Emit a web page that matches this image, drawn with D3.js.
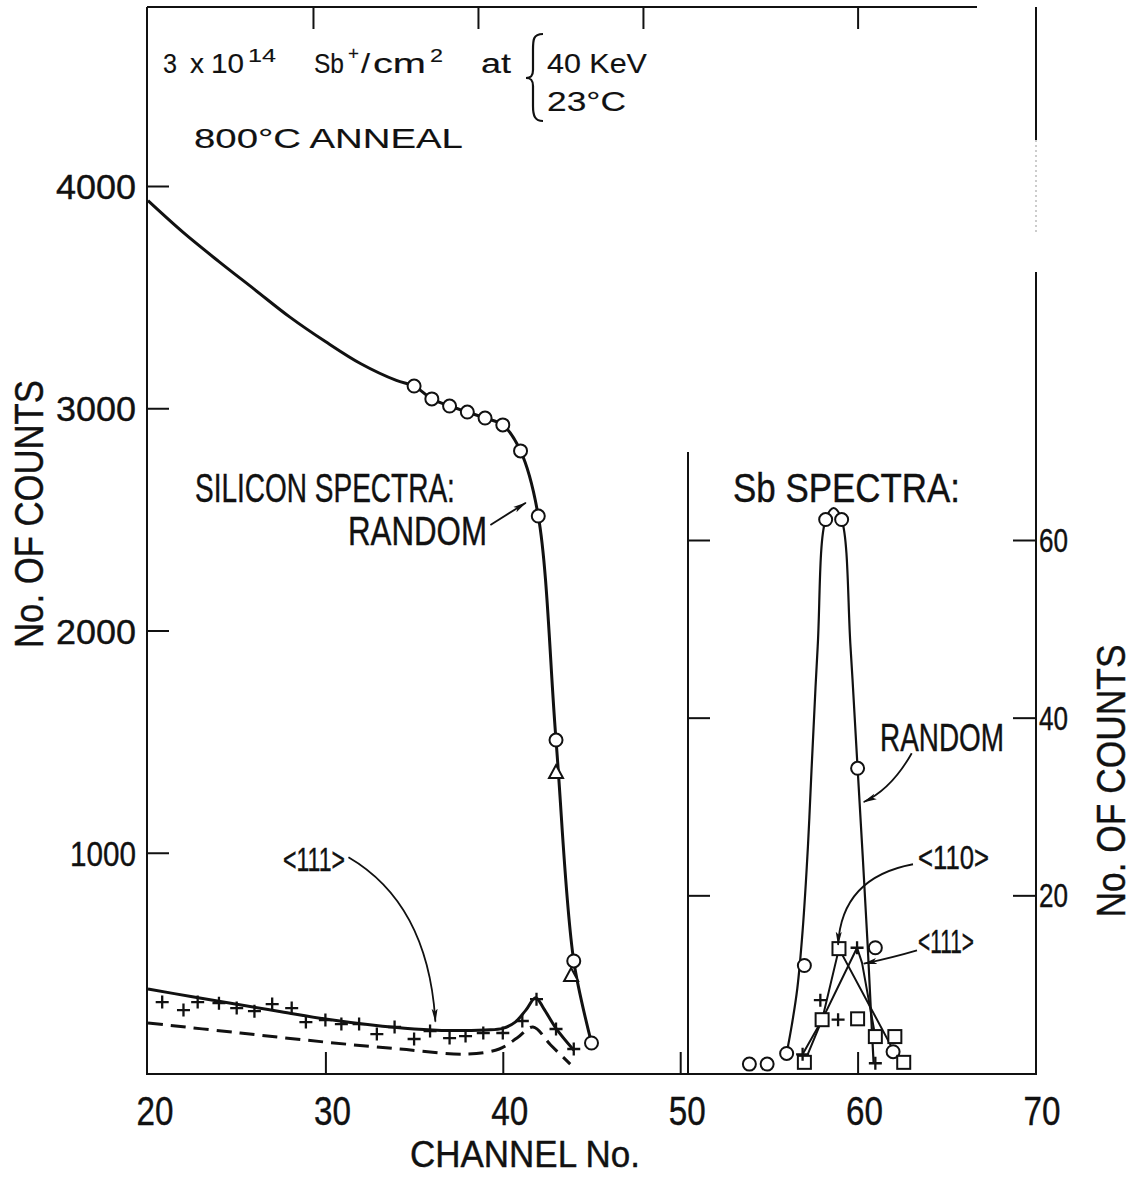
<!DOCTYPE html>
<html>
<head>
<meta charset="utf-8">
<script src="https://cdn.jsdelivr.net/npm/d3@7"></script>
<style>
  html, body { margin: 0; padding: 0; background: #fff; }
  svg { display: block; }
  text { font-family: "Liberation Sans", "DejaVu Sans", sans-serif; fill: #111; }
</style>
</head>
<body>
<script>
// ---------- Silicon spectra (left scale, counts) ----------
// Random spectrum: smooth part of the hand-drawn curve
const siRandomFitChannel = [20, 22, 24, 26, 28, 30, 32, 34];
const siRandomFitCounts  = [3934, 3790, 3660, 3535, 3410, 3300, 3200, 3125];
// Random spectrum: measured points (circles)
const siRandomChannel = [35, 36, 37, 38, 39, 40, 41, 42, 43, 44, 45];
const siRandomCounts  = [3100, 3042, 3010, 2983, 2956, 2925, 2808, 2515, 1507, 513, 144];
// Random spectrum: triangles
const siTriChannel = [43, 43.85];
const siTriCounts  = [1363, 450];
// <111> aligned spectrum: measured points (+)
const si111Channel = [20.8, 22.0, 22.8, 24.0, 25.0, 26.0, 27.0, 28.1, 28.9, 30.0, 30.9, 31.9,
                      32.9, 33.9, 35.0, 35.9, 37.0, 37.9, 38.9, 40.0, 41.1, 41.9, 43.0, 44.0];
const si111Counts  = [328, 292, 328, 323, 301, 287, 319, 301, 238, 247, 229, 229,
                      184, 216, 162, 198, 166, 175, 189, 189, 243, 341, 207, 117];
// <111> aligned spectrum: drawn curve
const si111LineChannel = [20, 22.5, 25, 27.5, 30, 32.5, 35, 37, 39, 40, 40.7, 41.3, 41.85, 42.3, 43, 44];
const si111LineCounts  = [387, 352, 318, 285, 252, 226, 207, 200, 203, 210, 238, 292, 348, 300, 210, 112];
// Dashed reference curve
const siDashChannel = [20, 25.2, 30, 34.2, 38, 39.8, 40.8, 41.7, 42.7, 43.8];
const siDashCounts  = [234, 189, 148, 117, 94, 117, 166, 216, 135, 49];

// ---------- Sb spectra (right scale, counts) ----------
const sbRandomChannel = [53.9, 54.9, 56.0, 57.0, 58.2, 59.1, 60.0, 61.0, 62.0];
const sbRandomCounts  = [1.0, 1.0, 2.2, 12.1, 62.3, 62.3, 34.3, 14.1, 2.4];
const sbRandomFitChannel = [56.0, 56.3, 56.6, 56.9, 57.2, 57.4, 57.75, 58.2, 58.65, 59.1, 59.6, 60.0, 60.3, 60.55, 60.75, 60.9];
const sbRandomFitCounts  = [2.2, 5.5, 9.5, 16, 25.5, 34, 48, 62.3, 63.6, 62.3, 48, 34.3, 24, 15, 7, 1.2];
const sb110Channel = [57.0, 58.0, 58.95, 60.0, 61.0, 62.1, 62.6];
const sb110Counts  = [1.2, 6.0, 14.0, 6.1, 4.1, 4.1, 1.2];
const sb110LineChannel = [57.0, 58.0, 58.95, 61.9];
const sb110LineCounts  = [1.2, 6.0, 14.0, 3.0];
const sb111Channel = [56.9, 57.9, 58.9, 59.97, 61.0];
const sb111Counts  = [2.1, 8.2, 6.0, 14.1, 1.1];
const sb111LineChannel = [56.9, 58.0, 59.97, 60.25, 61.0];
const sb111LineCounts  = [2.1, 6.0, 14.1, 12.4, 4.1];

// ---------- Axes ----------
const xTickValues = [20, 30, 40, 50, 60, 70];
const xTickLabels = ["20", "30", "40", "50", "60", "70"];
const xInnerTicks = [30, 40, 50, 60];
const xTopTicks   = [29.3, 38.6, 47.9, 60];
const siTickValues = [1000, 2000, 3000, 4000];
const siTickLabels = ["1000", "2000", "3000", "4000"];
const sbTickValues = [20, 40, 60];
const sbTickLabels = ["20", "40", "60"];

const W = 1135, H = 1178;
const svg = d3.select("body").append("svg").attr("width", W).attr("height", H);
svg.append("rect").attr("width", W).attr("height", H).attr("fill", "#fff");

const x = d3.scaleLinear().domain([20, 70]).range([148, 1035]);
const ySi = d3.scaleLinear().domain([0, 4000]).range([1075, 186]);
const ySb = d3.scaleLinear().domain([0, 60]).range([1073, 540]);

const ink = "#111";

// arrowhead marker
const defs = svg.append("defs");
defs.append("marker").attr("id", "arrow")
  .attr("viewBox", "0 0 14 8").attr("refX", 13).attr("refY", 4)
  .attr("markerWidth", 14).attr("markerHeight", 8).attr("markerUnits", "userSpaceOnUse")
  .attr("orient", "auto")
  .append("path").attr("d", "M0,1 L14,4 L0,7 L3,4 Z").attr("fill", ink);

// ---------- Frame ----------
const frame = svg.append("g").attr("stroke", ink).attr("stroke-width", 2).attr("fill", "none");
frame.append("line").attr("x1", 147).attr("x2", 147).attr("y1", 7).attr("y2", 1075);
frame.append("line").attr("x1", 147).attr("x2", 977).attr("y1", 7).attr("y2", 7);
frame.append("line").attr("x1", 147).attr("x2", 1036).attr("y1", 1074).attr("y2", 1074);
frame.append("line").attr("x1", 1036).attr("x2", 1036).attr("y1", 7).attr("y2", 140);
frame.append("line").attr("x1", 1036).attr("x2", 1036).attr("y1", 140).attr("y2", 232)
  .attr("stroke", "#999").attr("stroke-width", 1).attr("stroke-dasharray", "2,3");
frame.append("line").attr("x1", 1036).attr("x2", 1036).attr("y1", 272).attr("y2", 1075);
// Sb panel left border
frame.append("line").attr("x1", 688).attr("x2", 688).attr("y1", 452).attr("y2", 1075);

// ---------- Ticks via d3 axes ----------
function styleAxis(g) {
  g.select(".domain").remove();
  g.selectAll(".tick line").attr("stroke", ink).attr("stroke-width", 2);
  g.selectAll(".tick text").remove();
}
svg.append("g").attr("transform", "translate(147,0)")
  .call(d3.axisRight(ySi).tickValues(siTickValues).tickSize(22)).call(styleAxis);
svg.append("g").attr("transform", "translate(0,1074)")
  .call(d3.axisTop(x).tickValues(xInnerTicks).tickSize(22)).call(styleAxis);
svg.append("g").attr("transform", "translate(0,7)")
  .call(d3.axisBottom(x).tickValues(xTopTicks).tickSize(22)).call(styleAxis);
svg.append("g").attr("transform", "translate(1036,0)")
  .call(d3.axisLeft(ySb).tickValues(sbTickValues).tickSize(23)).call(styleAxis);
svg.append("g").attr("transform", "translate(688,0)")
  .call(d3.axisRight(ySb).tickValues(sbTickValues).tickSize(22)).call(styleAxis);

// ---------- Text helper: narrow lettering by horizontal scaling ----------
function txt(s, px, py, size, len, anchor, rot, sw) {
  const t = svg.append("text").attr("x", 0).attr("y", 0)
    .attr("font-size", size).attr("text-anchor", anchor || "start")
    .attr("stroke", ink).attr("stroke-width", sw === undefined ? 0.4 : sw)
    .text(s);
  const natural = t.node().getComputedTextLength();
  const k = len ? len / natural : 1;
  t.attr("transform", `translate(${px},${py}) rotate(${rot || 0}) scale(${k},1)`);
  return t;
}

// tick labels
siTickValues.forEach((v, i) => txt(siTickLabels[i], 136, ySi(v) + 13, 35, siTickLabels[i].startsWith("1") ? 66 : 80, "end"));
xTickValues.forEach((v, i) => txt(xTickLabels[i], x(v) + 7, 1125, 41, 37, "middle"));
sbTickValues.forEach((v, i) => txt(sbTickLabels[i], 1039, ySb(v) + 12, 34, 29, "start"));

// axis titles
txt("No. OF COUNTS", 43, 514, 41, 268, "middle", -90);
txt("No. OF COUNTS", 1125, 781, 41, 273, "middle", -90);
txt("CHANNEL No.", 525, 1167, 36, 230, "middle");

// heading
const hs = 0.15;
txt("3", 163, 73, 28, 14, "start", 0, hs);
txt("x", 190, 73, 28, 14, "start", 0, hs);
txt("10", 211, 73, 28, 33, "start", 0, hs);
txt("14", 248, 62, 19, 28, "start", 0, hs);
txt("Sb", 314, 73, 28, 30, "start", 0, hs);
txt("+", 348, 60, 19, 11, "start", 0, hs);
txt("/", 361, 73, 28, 9, "start", 0, hs);
txt("cm", 373, 73, 28, 53, "start", 0, hs);
txt("2", 430, 62, 19, 13, "start", 0, hs);
txt("at", 481, 73, 28, 30, "start", 0, hs);
txt("40 KeV", 547, 73, 28, 100, "start", 0, hs);
txt("23°C", 547, 111, 28, 79, "start", 0, hs);
txt("800°C  ANNEAL", 194, 148, 28, 269, "start", 0, hs);
// brace
svg.append("path")
  .attr("d", "M543,34 C533,34 533,40 533,50 L533,70 C533,76 531,78 526,78 C531,78 533,80 533,86 L533,106 C533,116 535,121 543,121")
  .attr("fill", "none").attr("stroke", ink).attr("stroke-width", 2.2);

// panel labels
txt("SILICON  SPECTRA:", 195, 502, 40, 260);
txt("RANDOM", 348, 545, 40, 139);
txt("Sb  SPECTRA:", 733, 502, 40, 227);
txt("RANDOM", 880, 751, 38, 124);
txt("<111>", 283, 871, 34, 62);
txt("<110>", 918, 869, 34, 71);
txt("<111>", 918, 953, 34, 56);

// ---------- Line generators ----------
const zip = (a, b) => a.map((v, i) => [v, b[i]]);
const lineSi = d3.line().x(d => x(d[0])).y(d => ySi(d[1])).curve(d3.curveCatmullRom.alpha(0.5));
const lineSb = d3.line().x(d => x(d[0])).y(d => ySb(d[1])).curve(d3.curveCatmullRom.alpha(0.5));
const lineSbStraight = d3.line().x(d => x(d[0])).y(d => ySb(d[1]));

const curves = svg.append("g").attr("fill", "none").attr("stroke", ink).attr("stroke-linejoin", "round");
curves.append("path")
  .attr("d", lineSi(zip(siRandomFitChannel, siRandomFitCounts).concat(zip(siRandomChannel, siRandomCounts))))
  .attr("stroke-width", 3);
curves.append("path").attr("d", lineSi(zip(si111LineChannel, si111LineCounts))).attr("stroke-width", 3);
curves.append("path").attr("d", lineSi(zip(siDashChannel, siDashCounts)))
  .attr("stroke-width", 3).attr("stroke-dasharray", "15,8");
curves.append("path").attr("d", lineSb(zip(sbRandomFitChannel, sbRandomFitCounts))).attr("stroke-width", 2.2);
curves.append("path").attr("d", lineSbStraight(zip(sb110LineChannel, sb110LineCounts))).attr("stroke-width", 2);
curves.append("path").attr("d", lineSbStraight(zip(sb111LineChannel, sb111LineCounts))).attr("stroke-width", 2);

// ---------- Markers ----------
const marks = svg.append("g").attr("stroke", ink).attr("stroke-width", 2);
function circles(ch, ct, ys) {
  marks.selectAll(null).data(zip(ch, ct)).enter().append("circle")
    .attr("cx", d => x(d[0])).attr("cy", d => ys(d[1])).attr("r", 6.5).attr("fill", "#fff");
}
function squares(ch, ct, ys) {
  marks.selectAll(null).data(zip(ch, ct)).enter().append("rect")
    .attr("x", d => x(d[0]) - 6.5).attr("y", d => ys(d[1]) - 6.5)
    .attr("width", 13).attr("height", 13).attr("fill", "#fff");
}
function triangles(ch, ct, ys) {
  marks.selectAll(null).data(zip(ch, ct)).enter().append("path")
    .attr("d", d => { const cx = x(d[0]), cy = ys(d[1]); return `M${cx},${cy - 7} L${cx + 7},${cy + 6} L${cx - 7},${cy + 6} Z`; })
    .attr("fill", "#fff");
}
function pluses(ch, ct, ys) {
  marks.selectAll(null).data(zip(ch, ct)).enter().append("path")
    .attr("d", d => { const cx = x(d[0]), cy = ys(d[1]); return `M${cx - 6.5},${cy} H${cx + 6.5} M${cx},${cy - 6.5} V${cy + 6.5}`; })
    .attr("fill", "none").attr("stroke-width", 2.3);
}
circles(siRandomChannel, siRandomCounts, ySi);
triangles(siTriChannel, siTriCounts, ySi);
pluses(si111Channel, si111Counts, ySi);
circles(sbRandomChannel, sbRandomCounts, ySb);
squares(sb110Channel, sb110Counts, ySb);
pluses(sb111Channel, sb111Counts, ySb);

// ---------- Pointer arrows ----------
const arrows = svg.append("g").attr("fill", "none").attr("stroke", ink).attr("stroke-width", 1.8);
function arrowPath(p0, c, p1) {
  return `M${p0[0]},${p0[1]} Q${c[0]},${c[1]} ${p1[0]},${p1[1]}`;
}
// Silicon RANDOM
arrows.append("path").attr("marker-end", "url(#arrow)")
  .attr("d", arrowPath([x(39.3), ySi(2475)], [x(40.3), ySi(2525)], [x(41.3), ySi(2575)]));
// Silicon <111>
arrows.append("path").attr("marker-end", "url(#arrow)")
  .attr("d", arrowPath([x(31.3), ySi(980)], [x(35.8), ySi(770)], [x(36.2), ySi(240)]));
// Sb RANDOM
arrows.append("path").attr("marker-end", "url(#arrow)")
  .attr("d", arrowPath([x(60.12) + 52, ySb(36)], [x(60.12) + 32, ySb(32)], [x(60.12) + 4, ySb(30.5)]));
// Sb <110>
arrows.append("path").attr("marker-end", "url(#arrow)")
  .attr("d", arrowPath([913, ySb(23.5)], [x(59.1), ySb(22)], [x(58.9), ySb(14.2) - 2]));
// Sb <111>
arrows.append("path").attr("marker-end", "url(#arrow)")
  .attr("d", arrowPath([917, ySb(13.8)], [893, ySb(13.0)], [x(60.35), ySb(12.3)]));
</script>
</body>
</html>
